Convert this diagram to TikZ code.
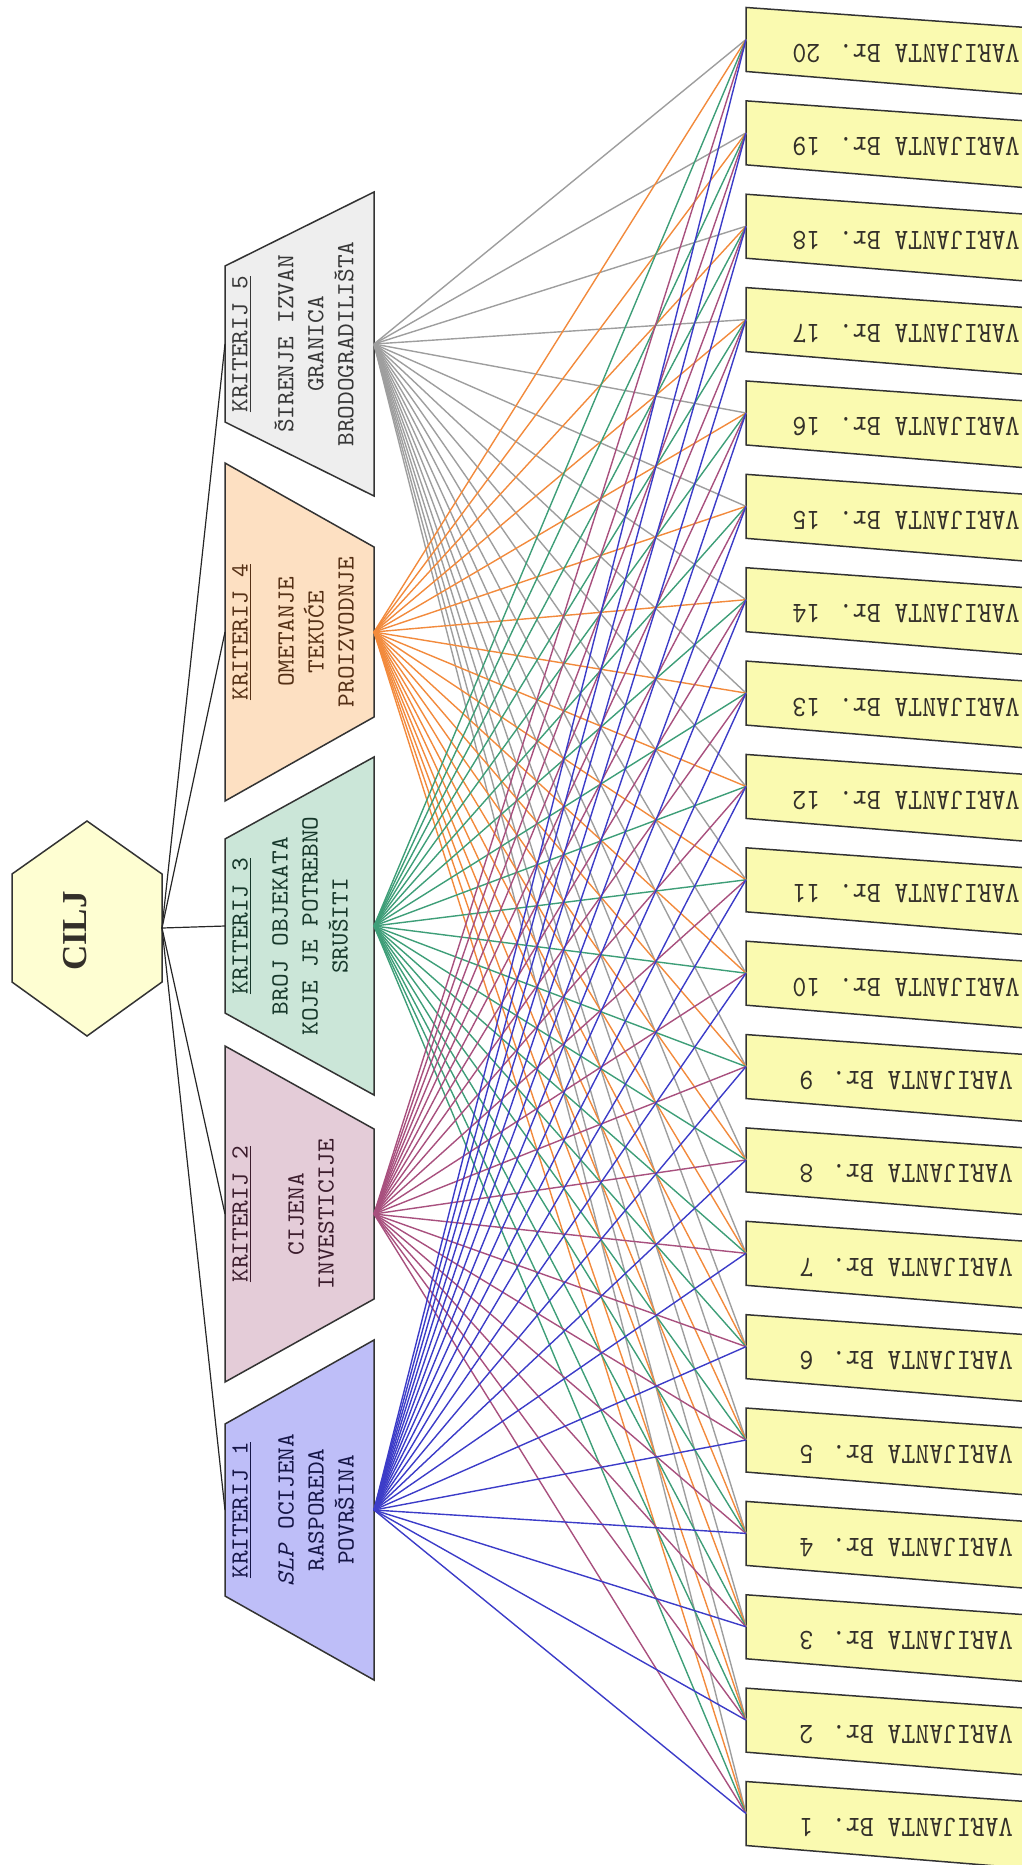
\documentclass[tikz,border=0pt]{standalone}
\usepackage{fontspec}
\setmainfont{Liberation Serif}
\newfontfamily\critfont{lmmono10-regular.otf}[FakeStretch=1.06,ItalicFont=lmmono10-italic.otf,ItalicFeatures={FakeStretch=1.06}]
\newfontfamily\varfont{lmmono10-regular.otf}[FakeStretch=0.9]
\usetikzlibrary{calc}

\definecolor{ciljfill}{HTML}{FEFED2}
\definecolor{varfill}{HTML}{FAFAB0}
\definecolor{kfill1}{HTML}{BEBEF8}
\definecolor{kfill2}{HTML}{E4CCD8}
\definecolor{kfill3}{HTML}{CBE6D8}
\definecolor{kfill4}{HTML}{FDE0C2}
\definecolor{kfill5}{HTML}{EEEEEE}
\definecolor{kline1}{HTML}{3C3CC8}
\definecolor{kline2}{HTML}{A8507E}
\definecolor{kline3}{HTML}{3E9E78}
\definecolor{kline4}{HTML}{F28A3C}
\definecolor{kline5}{HTML}{9E9E9E}

\begin{document}
\begin{tikzpicture}[x=0.5pt,y=-0.5pt,outline/.style={draw=black!80,line width=0.75pt},goaltext/.style={rotate=90,inner sep=0pt,font=\fontsize{17.5}{20}\selectfont\bfseries,text=black!85!olive},crittext/.style={rotate=90,anchor=north,inner sep=0pt,align=center,font=\critfont\fontsize{12.3}{15}\selectfont},vartext/.style={rotate=180,inner sep=0pt,font=\varfont\fontsize{14.7}{18}\selectfont,text=black!85!olive},link/.style={draw=black!85,line width=0.6pt},fan/.style={line width=0.7pt}]
\useasboundingbox (0,0) rectangle (1022,1865);
\clip (0,0) rectangle (1022,1865);
% goal
\filldraw[outline,fill=ciljfill] (87,821) -- (162,874) -- (162,982) -- (87,1036) -- (12,982) -- (12,874) -- cycle;
\node[goaltext] (cilj) at (75.5,931) {CILJ};
\coordinate (ciljout) at (162,928);
% criteria
\foreach \k/\cy/\lh/\rh in {1/1510/86/170,2/1214/168/85,3/926/87/169,4/632/169/85,5/344/78/152}{
  \filldraw[outline,fill=kfill\k] (225,\cy-\lh) -- (374,\cy-\rh) -- (374,\cy+\rh) -- (225,\cy+\lh) -- cycle;
  \coordinate (kin\k) at (225,\cy);
  \coordinate (kout\k) at (374,\cy);
}
\node[crittext,text=kline1!35!black] (kt1) at (232,1510) {\underline{KRITERIJ 1}\\[8pt]\textit{SLP} OCIJENA\\RASPOREDA\\POVRŠINA};
\node[crittext,text=kline2!35!black] (kt2) at (232,1214) {\underline{KRITERIJ 2}\\[13pt]CIJENA\\INVESTICIJE};
\node[crittext,text=kline3!35!black] (kt3) at (232,926) {\underline{KRITERIJ 3}\\[5pt]BROJ OBJEKATA\\KOJE JE POTREBNO\\SRUŠITI};
\node[crittext,text=kline4!35!black] (kt4) at (232,632) {\underline{KRITERIJ 4}\\[8pt]OMETANJE\\TEKUĆE\\PROIZVODNJE};
\node[crittext,text=kline5!35!black] (kt5) at (232,344) {\underline{KRITERIJ 5}\\[8pt]ŠIRENJE IZVAN\\GRANICA\\BRODOGRADILIŠTA};
% variants
\foreach \v in {1,...,20}{
  \pgfmathsetmacro\vy{1813.5-(\v-1)*93.37}
  \filldraw[outline,fill=varfill] (746,\vy-32) -- (1040,\vy-32+21) -- (1040,\vy+32+24) -- (746,\vy+32) -- cycle;
  \coordinate (var\v) at (746,\vy);
  \node[vartext] (vt\v) at (906,\vy+14) {VARIJANTA Br. \v};
}
% connectors
\foreach \k in {1,...,5}
  \draw[link] (ciljout) -- (kin\k);
\foreach \k in {5,4,3,2,1}
  \foreach \v in {1,...,20}
    \draw[fan,draw=kline\k] (kout\k) -- (var\v);
\end{tikzpicture}
\end{document}
